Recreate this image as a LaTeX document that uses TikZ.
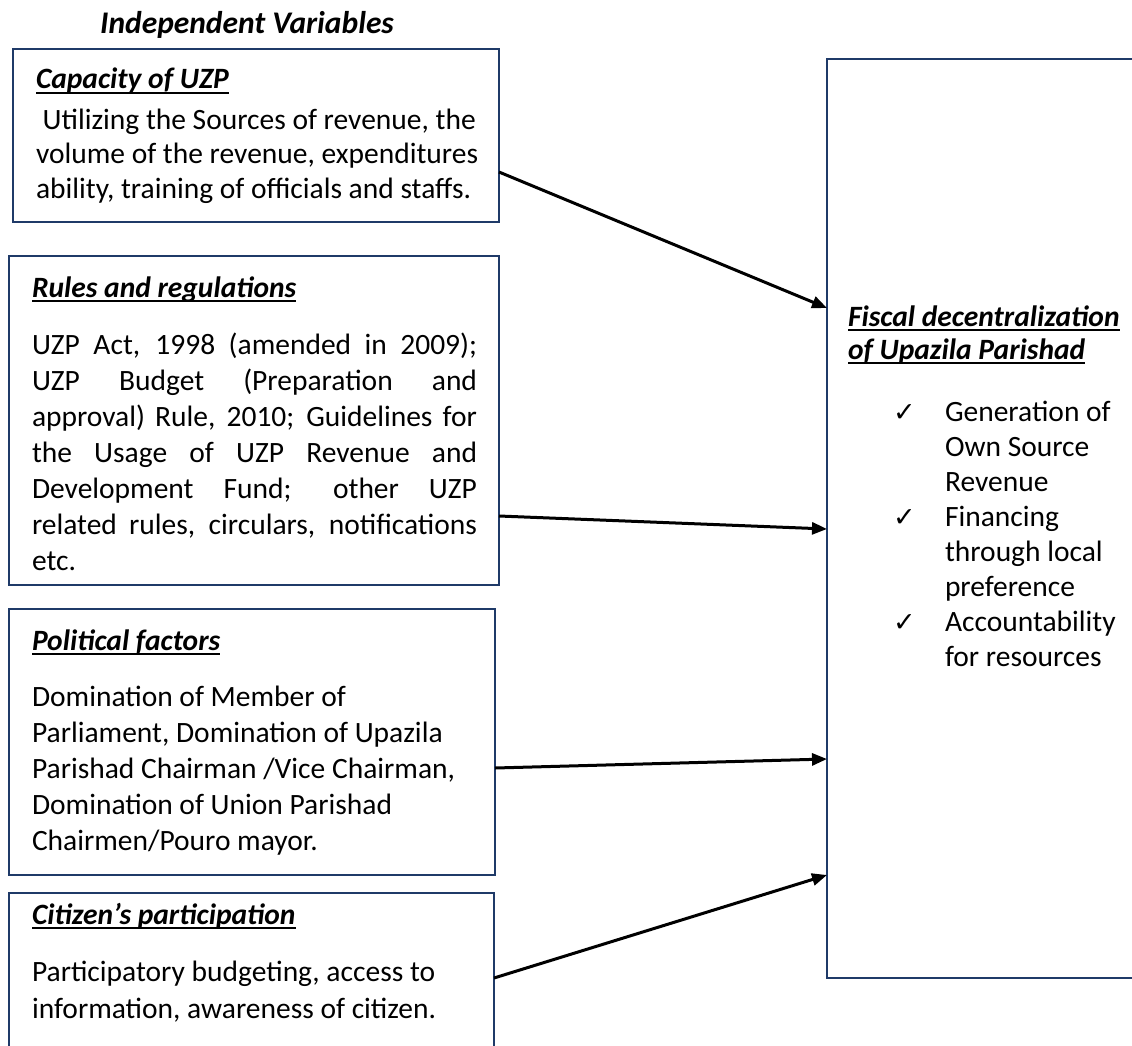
\documentclass[tikz,border=0pt]{standalone}
\usepackage{fontspec}
\setmainfont{Carlito}
\newfontfamily\symfont{DejaVu Sans}
\usetikzlibrary{arrows.meta,calc}
\definecolor{boxblue}{RGB}{31,58,104}
\newcommand\myul[1]{\leavevmode\setbox0\hbox{#1}\rlap{\rule[-5pt]{\wd0}{1.8pt}}\box0}
\newcommand\hd[1]{\myul{\textbf{\textit{#1}}}}
\newcommand\chk{\llap{\makebox[52pt][l]{\symfont\fontsize{27}{27}\selectfont ✓}}}
\begin{document}
\begin{tikzpicture}[x=1pt,y=-1pt,
  box/.style={draw=boxblue,line width=2.8pt,rectangle,inner sep=0pt,outer sep=0pt,anchor=north west},
  txt/.style={anchor=base west,inner sep=0pt,outer sep=0pt},
  arr/.style={-{Triangle[length=15pt,width=12pt]},line width=3pt,black}]
\useasboundingbox (0,0) rectangle (1132,1046);
\clip (0,0) rectangle (1132,1046);
\fill[white] (0,0) rectangle (1132,1046);

\node[anchor=base,inner sep=0pt,font=\fontsize{31.5}{35}\selectfont\bfseries\itshape] (title) at (247,34) {Independent Variables};

\node[box,minimum width=486pt,minimum height=173pt] (b1) at (13,49) {};
\node[box,minimum width=490pt,minimum height=329pt] (b2) at (9,256) {};
\node[box,minimum width=486pt,minimum height=266pt] (b3) at (9,609) {};
\node[box,minimum width=485pt,minimum height=180pt] (b4) at (9,893) {};
\node[box,minimum width=340pt,minimum height=919pt] (fd) at (827,59) {};

\node[txt] (t1) at (36,89) {\parbox[t]{470pt}{\fontsize{29.5}{35}\selectfont\raggedright
\hd{Capacity of UZP}\\[5pt]
\ Utilizing the Sources of revenue, the\\
volume of the revenue, expenditures\\
ability, training of officials and staffs.}};

\node[txt] (t2) at (32,297) {\parbox[t]{470pt}{\fontsize{29.5}{36}\selectfont\raggedright
\hd{Rules and regulations}\\[21pt]
\makebox[445pt][s]{UZP Act, 1998 (amended in 2009);}\\
\makebox[445pt][s]{UZP Budget (Preparation and}\\
\makebox[445pt][s]{approval) Rule, 2010; Guidelines for}\\
\makebox[445pt][s]{the Usage of UZP Revenue and}\\
\makebox[445pt][s]{Development Fund; other UZP}\\
\makebox[445pt][s]{related rules, circulars, notifications}\\
etc.}};

\node[txt] (t3) at (32,650) {\parbox[t]{470pt}{\fontsize{29.5}{36}\selectfont\raggedright
\hd{Political factors}\\[20pt]
Domination of Member of\\
Parliament, Domination of Upazila\\
Parishad Chairman /Vice Chairman,\\
Domination of Union Parishad\\
Chairmen/Pouro mayor.}};

\node[txt] (t4) at (32,924) {\parbox[t]{470pt}{\fontsize{29.5}{37}\selectfont\raggedright
\hd{Citizen’s participation}\\[20pt]
Participatory budgeting, access to\\
information, awareness of citizen.}};

\node[txt] (t5) at (848,326) {\parbox[t]{300pt}{\fontsize{29.5}{35}\selectfont\raggedright
\hd{Fiscal decentralization}\\[-2pt]
\hd{of Upazila Parishad}\\[27pt]
\hspace*{97pt}\chk Generation of\\
\hspace*{97pt}Own Source\\
\hspace*{97pt}Revenue\\
\hspace*{97pt}\chk Financing\\
\hspace*{97pt}through local\\
\hspace*{97pt}preference\\
\hspace*{97pt}\chk Accountability\\
\hspace*{97pt}for resources}};

\coordinate (s1) at (0,172);
\coordinate (e1) at (0,308);
\coordinate (s2) at (0,516);
\coordinate (e2) at (0,529);
\coordinate (s3) at (0,768);
\coordinate (e3) at (0,759);
\coordinate (s4) at (0,978);
\coordinate (e4) at (0,875);

\draw[arr] (b1.east |- s1) -- (fd.west |- e1);
\draw[arr] (b2.east |- s2) -- (fd.west |- e2);
\draw[arr] (b3.east |- s3) -- (fd.west |- e3);
\draw[arr] (b4.east |- s4) -- (fd.west |- e4);
\end{tikzpicture}
\end{document}
